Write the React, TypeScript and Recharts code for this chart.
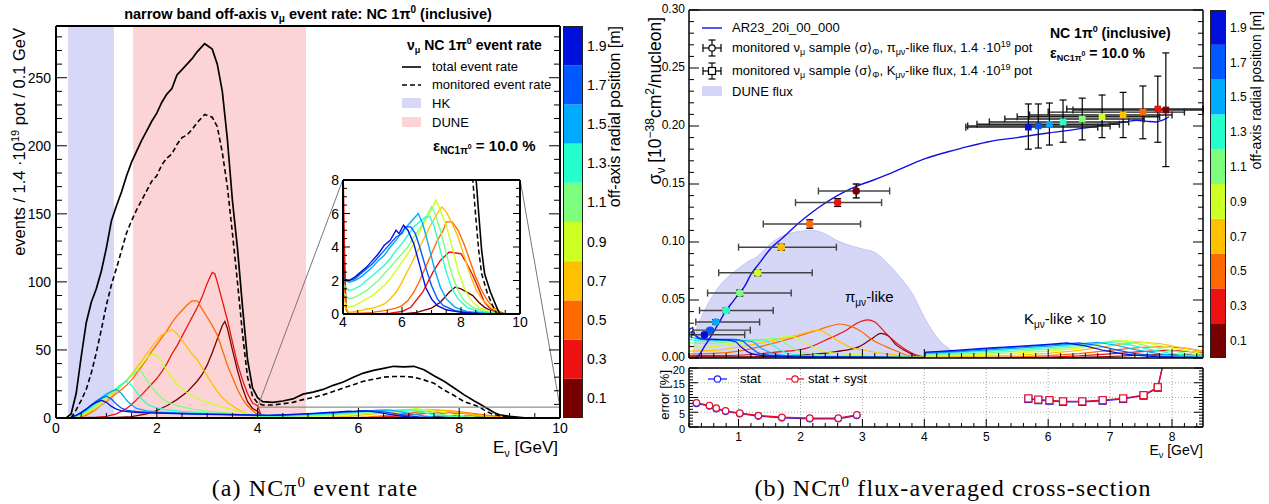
import React from 'react';
import {
  LineChart, Line, XAxis, YAxis, ReferenceArea, ReferenceLine,
  ComposedChart, Area, Scatter, ErrorBar, Cell, BarChart, Bar, ZAxis,
} from 'recharts';

const FONT = "'Liberation Sans', Arial, Helvetica, sans-serif";
const SERIF = "'Liberation Serif', 'DejaVu Serif', serif";

// ---------- radial bins / palette ----------
const RADII = [0.1, 0.3, 0.5, 0.7, 0.9, 1.1, 1.3, 1.5, 1.7, 1.9];
const BIN_W = 0.2;
const PALETTE = ['#780000', '#ee1111', '#ff6a00', '#ffc000', '#ccff22', '#7dff7d', '#25ffcc', '#00aaff', '#0058ff', '#0010dc'];

// ---------- left panel: event rates [E, events] ----------
const TOTAL_RATE: [number, number][] = [[0.2,0],[0.3,3],[0.4,18],[0.5,45],[0.6,70],[0.7,85],[0.8,95],[0.9,108],[1.0,125],[1.1,145],[1.2,156],[1.3,166],[1.4,178],[1.5,188],[1.6,196],[1.7,204],[1.8,211],[1.9,218],[2.0,224],[2.1,232],[2.2,238],[2.3,242],[2.4,252],[2.5,256],[2.6,260],[2.7,264],[2.8,269],[2.95,275],[3.1,271],[3.2,260],[3.3,240],[3.4,205],[3.5,160],[3.6,125],[3.7,82],[3.8,43],[3.9,22],[4.0,15],[4.1,12],[4.3,11.5],[4.5,12.5],[4.7,14],[4.9,17.5],[5.1,19],[5.3,21],[5.5,24],[5.7,26.5],[5.9,30],[6.1,33],[6.3,35],[6.5,36.5],[6.7,38],[6.9,37.5],[7.1,38],[7.3,35.5],[7.5,31],[7.7,27],[7.9,22],[8.1,17],[8.3,12.5],[8.4,10.5],[8.5,8.3],[8.6,6],[8.7,3.8],[8.8,2.4],[9.0,1.3],[9.2,0.45],[9.3,0.05],[9.5,0],[10,0]];
const MONITORED_RATE: [number, number][] = [[0.3,0],[0.4,6],[0.5,13],[0.6,21],[0.7,33],[0.8,48],[0.9,65],[1.0,83],[1.1,98],[1.2,110],[1.3,123],[1.4,136],[1.5,145],[1.6,153],[1.7,160],[1.8,167],[1.9,174],[2.0,178],[2.1,186],[2.2,191],[2.3,194],[2.4,201],[2.5,206],[2.6,208],[2.7,212],[2.8,217],[2.95,223],[3.1,221],[3.2,214],[3.3,195],[3.4,170],[3.5,136],[3.6,100],[3.7,62],[3.8,30],[3.9,16],[4.0,11],[4.1,9.5],[4.3,9.5],[4.5,10.5],[4.7,11.5],[4.9,13.5],[5.1,15],[5.3,17],[5.5,19.5],[5.7,22],[5.9,24.5],[6.1,27],[6.3,28.5],[6.5,30],[6.7,30.5],[6.9,30.5],[7.1,30],[7.3,28],[7.5,25.5],[7.7,20.5],[7.9,16.5],[8.1,12],[8.3,9.5],[8.4,8],[8.5,5.8],[8.6,3.8],[8.7,2.4],[8.9,1.2],[9.1,0.4],[9.2,0.05],[9.4,0],[10,0]];

const RATE_R01: [number, number][] = [[0.2,0],[1.0,0.1],[1.5,1],[1.8,3],[2.0,5.5],[2.2,9],[2.4,13.5],[2.6,19],[2.8,27],[2.9,32],[3.0,39],[3.1,48],[3.2,58],[3.3,68],[3.35,71],[3.4,66],[3.5,50],[3.6,35],[3.7,22],[3.8,12],[3.9,7],[4.0,5],[4.1,0.3],[4.2,0],[6.0,0],[6.5,0.1],[7.0,0.35],[7.3,0.7],[7.6,1.3],[7.8,1.6],[8.0,1.5],[8.2,1.3],[8.4,1.1],[8.6,0.7],[8.8,0.4],[9.0,0.2],[9.3,0.05],[9.5,0],[10,0]];
const RATE_R03: [number, number][] = [[0.2,0],[0.5,0.2],[0.8,0.6],[1.0,1.2],[1.2,3],[1.4,7],[1.5,10],[1.6,13.5],[1.7,17],[1.8,21],[1.9,25],[2.0,29],[2.1,34],[2.2,40],[2.3,47],[2.4,53],[2.5,60],[2.6,67],[2.7,74],[2.8,81],[2.9,89],[3.0,99],[3.1,107],[3.15,106],[3.2,100],[3.3,86],[3.4,72],[3.5,56],[3.6,40],[3.7,28],[3.8,18],[3.9,11],[4.0,9],[4.05,4],[4.1,0.4],[4.2,0],[5.0,0],[5.6,0.05],[6.0,0.15],[6.3,0.4],[6.7,1.3],[7.05,2.5],[7.3,3.2],[7.6,3.7],[8.0,3.6],[8.2,3.0],[8.4,2.3],[8.6,1.5],[8.8,0.7],[9.0,0.3],[9.3,0.08],[9.5,0],[10,0]];
const RATE_R05: [number, number][] = [[0.2,0],[0.4,0.3],[0.5,1],[0.6,2],[0.7,4],[0.8,6.5],[0.9,9.5],[1.0,12],[1.1,15],[1.2,18],[1.3,21],[1.4,24],[1.5,28],[1.6,33],[1.7,38],[1.8,43],[1.9,49],[2.0,54],[2.1,59],[2.2,64],[2.3,70],[2.4,75],[2.5,79],[2.6,83],[2.7,86],[2.8,86],[2.9,80],[3.0,74],[3.1,68],[3.2,61],[3.3,50],[3.4,39],[3.5,30],[3.6,21],[3.7,14],[3.8,9],[3.9,5.5],[4.0,2.5],[4.1,0.3],[4.2,0.05],[4.6,0.05],[5.0,0.1],[5.4,0.2],[5.8,0.35],[6.0,0.5],[6.2,0.8],[6.4,1.3],[6.6,2.0],[6.8,2.8],[7.0,3.6],[7.2,4.4],[7.4,5.0],[7.5,5.5],[7.7,5.5],[7.9,5.0],[8.1,4.2],[8.3,3.2],[8.5,2.2],[8.7,1.4],[8.9,0.8],[9.1,0.4],[9.3,0.15],[9.5,0],[10,0]];
const RATE_R07: [number, number][] = [[0.2,0],[0.3,0.1],[0.4,0.6],[0.5,1.5],[0.6,3],[0.7,5],[0.8,7],[0.9,9.5],[1.0,12.5],[1.1,16],[1.2,20],[1.3,24],[1.4,28],[1.5,32],[1.6,37],[1.7,42],[1.8,47],[1.9,52],[2.0,57],[2.1,61],[2.2,63],[2.3,65],[2.4,62],[2.5,57],[2.6,52],[2.7,47],[2.8,43],[2.9,37],[3.0,31],[3.1,25],[3.2,19.5],[3.3,15],[3.4,11.5],[3.5,9],[3.6,6.5],[3.7,4.5],[3.8,3],[3.9,1.8],[4.0,0.6],[4.2,0.1],[4.4,0.15],[4.6,0.2],[4.8,0.3],[5.0,0.35],[5.2,0.45],[5.4,0.6],[5.6,0.9],[5.8,1.3],[6.0,1.9],[6.2,2.6],[6.4,3.3],[6.6,4.0],[6.8,4.7],[7.0,5.4],[7.2,6.0],[7.35,6.4],[7.5,6.1],[7.7,5.4],[7.9,4.6],[8.1,3.5],[8.3,2.4],[8.5,1.5],[8.7,0.9],[9.0,0.4],[9.3,0.1],[9.5,0],[10,0]];
const RATE_R09: [number, number][] = [[0.2,0],[0.3,0.2],[0.4,1],[0.5,2],[0.6,3.8],[0.7,6],[0.8,9],[0.9,12],[1.0,15],[1.1,18],[1.2,21],[1.3,24],[1.4,27.5],[1.5,31],[1.6,35],[1.7,39.5],[1.8,44],[1.9,47],[2.0,46],[2.1,41],[2.2,35],[2.3,29.5],[2.4,25],[2.5,21.5],[2.6,18.5],[2.8,14.5],[3.0,11.5],[3.3,8],[3.6,5],[3.9,2.5],[4.0,0.8],[4.2,0.4],[4.4,0.5],[4.6,0.7],[4.8,0.9],[5.0,1.1],[5.2,1.4],[5.4,1.7],[5.6,2.1],[5.8,2.6],[6.0,3.1],[6.2,3.6],[6.4,4.2],[6.6,4.9],[6.8,5.6],[7.0,6.2],[7.15,6.8],[7.3,6.2],[7.5,5.3],[7.7,4.0],[7.9,2.6],[8.1,1.6],[8.3,0.9],[8.6,0.4],[9.0,0.15],[9.4,0],[10,0]];
const RATE_R11: [number, number][] = [[0.2,0],[0.3,0.3],[0.4,1.2],[0.5,2.5],[0.6,4.5],[0.7,7],[0.8,10],[0.9,13],[1.0,16],[1.1,18.5],[1.2,21],[1.3,24],[1.4,27],[1.5,31],[1.6,35],[1.7,34],[1.8,28],[1.9,23],[2.0,18],[2.1,14.5],[2.2,12],[2.4,9],[2.7,6.5],[3.0,5.0],[3.5,3.4],[4.0,1.3],[4.2,0.9],[4.4,1.0],[4.6,1.2],[4.8,1.4],[5.0,1.7],[5.2,2.0],[5.4,2.4],[5.6,2.8],[5.8,3.2],[6.0,3.6],[6.2,4.0],[6.4,4.6],[6.6,5.1],[6.8,5.7],[7.0,6.4],[7.1,6.1],[7.3,5.0],[7.5,3.6],[7.7,2.3],[7.9,1.4],[8.1,0.8],[8.4,0.4],[8.8,0.15],[9.3,0],[10,0]];
const RATE_R13: [number, number][] = [[0.2,0],[0.3,0.3],[0.4,1.5],[0.5,3],[0.6,5.5],[0.7,8],[0.8,11],[0.9,14],[1.0,16.5],[1.1,19],[1.2,22],[1.3,25],[1.4,27],[1.5,24],[1.6,19],[1.7,14],[1.8,10.5],[1.9,8.5],[2.0,7.5],[2.2,6.0],[2.5,4.8],[3.0,3.6],[3.5,2.8],[4.0,1.8],[4.2,1.4],[4.4,1.5],[4.6,1.7],[4.8,2.0],[5.0,2.3],[5.2,2.6],[5.4,2.9],[5.6,3.3],[5.8,3.8],[6.0,4.2],[6.2,4.7],[6.4,5.2],[6.6,5.5],[6.8,5.8],[6.95,5.8],[7.1,5.2],[7.3,3.8],[7.5,2.5],[7.7,1.5],[7.9,0.9],[8.2,0.4],[8.6,0.15],[9.3,0],[10,0]];
const RATE_R15: [number, number][] = [[0.2,0],[0.3,0.4],[0.4,1.8],[0.5,3.5],[0.6,6],[0.7,9],[0.8,12],[0.9,15],[1.0,17.5],[1.1,19.5],[1.2,21],[1.3,18],[1.4,13],[1.5,9.5],[1.6,7],[1.8,5.2],[2.0,4.5],[2.5,3.6],[3.0,3.1],[3.5,2.6],[4.0,2.1],[4.2,1.9],[4.4,2.0],[4.6,2.2],[4.8,2.5],[5.0,2.8],[5.2,3.2],[5.4,3.5],[5.6,4.0],[5.8,4.4],[6.0,4.9],[6.2,5.3],[6.4,5.7],[6.55,6.0],[6.7,5.4],[6.9,4.1],[7.1,2.7],[7.3,1.6],[7.5,0.9],[7.8,0.4],[8.2,0.15],[8.8,0.05],[9.3,0],[10,0]];
const RATE_R17: [number, number][] = [[0.2,0],[0.3,0.5],[0.4,2],[0.5,4],[0.6,6.5],[0.7,9.5],[0.8,12.5],[0.9,14.5],[1.0,16],[1.1,14],[1.2,10],[1.3,7.2],[1.4,5.8],[1.6,4.7],[2.0,3.9],[2.5,3.3],[3.0,2.9],[3.5,2.5],[4.0,2.1],[4.2,2.0],[4.4,2.1],[4.6,2.4],[4.8,2.7],[5.0,3.0],[5.2,3.4],[5.4,3.8],[5.6,4.2],[5.8,4.6],[6.0,4.8],[6.1,5.2],[6.3,5.2],[6.45,4.8],[6.6,4.0],[6.8,2.8],[7.0,1.7],[7.2,0.9],[7.4,0.5],[7.8,0.2],[8.4,0.05],[9.2,0],[10,0]];
const RATE_R19: [number, number][] = [[0.2,0],[0.3,0.5],[0.4,2],[0.5,4],[0.6,6.5],[0.7,9.5],[0.8,11.5],[0.9,13],[1.0,11.5],[1.1,8.5],[1.2,6.5],[1.3,5.3],[1.5,4.4],[1.8,3.8],[2.2,3.4],[2.6,3.0],[3.0,2.7],[3.5,2.4],[4.0,2.1],[4.2,2.0],[4.4,2.2],[4.6,2.5],[4.8,2.8],[5.0,3.2],[5.2,3.6],[5.4,4.1],[5.6,4.4],[5.8,5.0],[5.9,4.8],[6.05,5.3],[6.2,5.0],[6.4,4.2],[6.6,2.9],[6.8,1.6],[7.0,0.9],[7.2,0.5],[7.5,0.25],[8.0,0.1],[8.6,0.03],[9.2,0],[10,0]];
const RATE_CURVES = [RATE_R01, RATE_R03, RATE_R05, RATE_R07, RATE_R09, RATE_R11, RATE_R13, RATE_R15, RATE_R17, RATE_R19];

const HK_RANGE = [0.24, 1.15];
const DUNE_RANGE = [1.53, 4.96];
const INSET_BOX = { e0: 4, e1: 10, v1: 8 };
const INSET_CORNERS = [[5.69, 174.9], [9.21, 174.9]];

// ---------- right panel ----------
const AR23: [number, number][] = [[0.3,0],[0.37,0.003],[0.45,0.010],[0.58,0.021],[0.7,0.032],[0.8,0.041],[0.9,0.048],[1.0,0.055],[1.1,0.062],[1.2,0.072],[1.34,0.082],[1.53,0.095],[1.7,0.103],[1.9,0.113],[2.1,0.122],[2.3,0.130],[2.5,0.137],[2.7,0.143],[2.9,0.148],[3.16,0.153],[3.4,0.158],[3.7,0.165],[3.97,0.171],[4.2,0.175],[4.4,0.178],[4.68,0.182],[5.0,0.186],[5.2,0.188],[5.5,0.190],[5.74,0.192],[6.0,0.194],[6.3,0.196],[6.55,0.198],[6.8,0.200],[7.1,0.2025],[7.3,0.204],[7.42,0.205],[7.6,0.204],[7.74,0.2035],[7.85,0.205],[7.95,0.208]];
const DUNE_FLUX: [number, number][] = [[0.25,0],[0.3,0.015],[0.32,0.024],[0.4,0.035],[0.48,0.044],[0.6,0.055],[0.74,0.065],[0.9,0.073],[1.02,0.078],[1.15,0.083],[1.29,0.087],[1.45,0.095],[1.6,0.102],[1.87,0.108],[2.19,0.11],[2.4,0.107],[2.6,0.101],[2.8,0.097],[3.0,0.094],[3.2,0.091],[3.4,0.082],[3.6,0.07],[3.8,0.056],[4.0,0.035],[4.2,0.018],[4.4,0.008],[4.6,0.003],[4.8,0.0012],[5.0,0.0004],[5.5,0]];

const FLUX_PI_R01: [number, number][] = [[0.2,0.001],[1.0,0.001],[1.8,0.0018],[2.36,0.004],[2.7,0.0065],[2.95,0.0098],[3.15,0.0165],[3.3,0.0213],[3.42,0.019],[3.54,0.0115],[3.7,0.006],[3.82,0.0026],[3.95,0.0005],[4.05,0.0001]];
const FLUX_PI_R03: [number, number][] = [[0.2,0.002],[0.8,0.002],[1.2,0.003],[1.6,0.005],[2.09,0.0083],[2.41,0.0155],[2.74,0.024],[2.95,0.031],[3.09,0.0328],[3.2,0.031],[3.38,0.0213],[3.55,0.013],[3.71,0.0069],[3.85,0.003],[4.0,0.0008],[4.1,0.0001]];
const FLUX_PI_R05: [number, number][] = [[0.2,0.0035],[0.6,0.004],[1.0,0.006],[1.4,0.0105],[1.66,0.0141],[2.2,0.0227],[2.45,0.027],[2.63,0.0293],[2.8,0.0275],[2.95,0.024],[3.15,0.016],[3.38,0.0098],[3.55,0.006],[3.71,0.0026],[3.9,0.0008],[4.05,0.0002]];
const FLUX_PI_R07: [number, number][] = [[0.2,0.006],[0.6,0.0065],[1.0,0.0095],[1.5,0.0145],[1.9,0.019],[2.31,0.024],[2.45,0.02],[2.63,0.0141],[2.8,0.0095],[3.0,0.0069],[3.4,0.0035],[3.8,0.0012],[4.05,0.0003]];
const FLUX_PI_R09: [number, number][] = [[0.2,0.0095],[0.5,0.0095],[1.0,0.013],[1.5,0.0165],[1.88,0.0184],[2.05,0.014],[2.25,0.008],[2.5,0.0045],[3.0,0.0025],[3.6,0.0013],[4.0,0.0005]];
const FLUX_PI_R11: [number, number][] = [[0.2,0.013],[0.5,0.0125],[1.0,0.0145],[1.4,0.016],[1.61,0.0169],[1.75,0.013],[1.9,0.0075],[2.1,0.004],[2.6,0.0018],[3.4,0.001],[4.0,0.0005]];
const FLUX_PI_R13: [number, number][] = [[0.2,0.016],[0.4,0.0145],[0.8,0.015],[1.2,0.0155],[1.42,0.0155],[1.55,0.011],[1.7,0.006],[1.9,0.003],[2.4,0.0015],[3.2,0.0009],[4.0,0.0004]];
const FLUX_PI_R15: [number, number][] = [[0.2,0.019],[0.3,0.017],[0.5,0.0155],[0.8,0.0155],[1.1,0.0148],[1.23,0.014],[1.35,0.009],[1.5,0.005],[1.7,0.0025],[2.2,0.0013],[3.0,0.0008],[4.0,0.0004]];
const FLUX_PI_R17: [number, number][] = [[0.2,0.021],[0.25,0.023],[0.3,0.019],[0.4,0.016],[0.6,0.016],[0.9,0.016],[1.05,0.015],[1.15,0.011],[1.3,0.005],[1.5,0.0025],[2.0,0.0012],[3.0,0.0007],[4.0,0.0004]];
const FLUX_PI_R19: [number, number][] = [[0.2,0.024],[0.25,0.026],[0.3,0.02],[0.4,0.017],[0.6,0.016],[0.8,0.0155],[0.95,0.014],[1.05,0.009],[1.2,0.004],[1.4,0.002],[1.8,0.0012],[2.5,0.0008],[3.5,0.0005],[4.0,0.0003]];
const FLUX_PI = [FLUX_PI_R01, FLUX_PI_R03, FLUX_PI_R05, FLUX_PI_R07, FLUX_PI_R09, FLUX_PI_R11, FLUX_PI_R13, FLUX_PI_R15, FLUX_PI_R17, FLUX_PI_R19];

const FLUX_K_R01: [number, number][] = [[5.5,0],[6.0,0.0002],[6.5,0.0006],[7.0,0.0013],[7.5,0.0024],[7.9,0.003],[8.2,0.0029],[8.5,0.0024]];
const FLUX_K_R03: [number, number][] = [[5.0,0.0001],[5.5,0.0003],[6.0,0.0008],[6.5,0.0018],[7.0,0.0035],[7.5,0.0055],[7.9,0.0065],[8.2,0.006],[8.5,0.0045]];
const FLUX_K_R05: [number, number][] = [[4.5,0.0002],[5.0,0.0005],[5.5,0.001],[6.0,0.002],[6.5,0.0038],[7.0,0.0065],[7.5,0.0092],[7.9,0.0098],[8.2,0.0085],[8.5,0.006]];
const FLUX_K_R07: [number, number][] = [[4.0,0],[4.02,0.0008],[4.5,0.0011],[5.0,0.0017],[5.5,0.0026],[6.0,0.004],[6.5,0.0065],[7.0,0.0105],[7.45,0.0138],[7.8,0.0125],[8.1,0.0095],[8.5,0.0055]];
const FLUX_K_R09: [number, number][] = [[4.0,0],[4.02,0.0016],[4.5,0.0022],[5.0,0.0031],[5.5,0.0044],[6.0,0.006],[6.5,0.0085],[7.15,0.0155],[7.5,0.0138],[7.9,0.0098],[8.2,0.0065],[8.5,0.0038]];
const FLUX_K_R11: [number, number][] = [[4.0,0],[4.02,0.0026],[4.5,0.0033],[5.0,0.0045],[5.5,0.006],[6.0,0.0077],[6.5,0.0098],[7.05,0.0148],[7.4,0.0128],[7.8,0.0082],[8.2,0.0042],[8.5,0.0022]];
const FLUX_K_R13: [number, number][] = [[4.0,0],[4.02,0.0035],[4.5,0.0043],[5.0,0.0057],[5.5,0.0073],[6.0,0.009],[6.5,0.011],[6.95,0.0138],[7.3,0.0115],[7.6,0.0078],[8.0,0.0038],[8.5,0.0012]];
const FLUX_K_R15: [number, number][] = [[4.0,0],[4.02,0.0042],[4.5,0.0052],[5.0,0.0068],[5.5,0.0085],[6.0,0.0103],[6.5,0.0122],[6.8,0.0135],[7.1,0.011],[7.4,0.0072],[7.8,0.0035],[8.2,0.0015],[8.5,0.0007]];
const FLUX_K_R17: [number, number][] = [[4.0,0],[4.02,0.0048],[4.5,0.006],[5.0,0.0078],[5.5,0.0095],[6.0,0.0112],[6.5,0.013],[6.8,0.0108],[7.1,0.007],[7.4,0.0038],[7.8,0.0016],[8.2,0.0007],[8.5,0.0003]];
const FLUX_K_R19: [number, number][] = [[4.0,0],[4.02,0.005],[4.5,0.0065],[5.0,0.0085],[5.5,0.010],[6.0,0.0118],[6.3,0.013],[6.6,0.0105],[6.9,0.0065],[7.2,0.0035],[7.6,0.0015],[8.0,0.0006],[8.5,0.0002]];
const FLUX_K = [FLUX_K_R01, FLUX_K_R03, FLUX_K_R05, FLUX_K_R07, FLUX_K_R09, FLUX_K_R11, FLUX_K_R13, FLUX_K_R15, FLUX_K_R17, FLUX_K_R19];

// pi-like flux-averaged points (ordered 0.1 m -> 1.9 m)
const PI_E = [2.90, 2.60, 2.15, 1.69, 1.31, 1.02, 0.80, 0.63, 0.54, 0.45];
const PI_SIG = [0.144, 0.134, 0.1155, 0.0955, 0.0735, 0.056, 0.041, 0.031, 0.024, 0.020];
const PI_SIG_ERR = [0.006, 0.0033, 0.0036, 0.0025, 0.0025, 0.0025, 0.002, 0.002, 0.0015, 0.0015];
const PI_E_LO = [2.29, 1.92, 1.40, 1.00, 0.68, 0.50, 0.37, 0.31, 0.26, 0.24];
const PI_E_HI = [3.44, 3.31, 2.97, 2.58, 2.19, 1.85, 1.56, 1.34, 1.19, 1.10];

// K-like points (ordered 0.1 m -> 1.9 m)
const K_E = [7.90, 7.77, 7.53, 7.21, 6.87, 6.55, 6.24, 6.02, 5.84, 5.68];
const K_SIG = [0.2138, 0.2147, 0.212, 0.2095, 0.208, 0.206, 0.2035, 0.2015, 0.200, 0.199];
const K_SIG_LO = [0.165, 0.186, 0.189, 0.190, 0.190, 0.188, 0.186, 0.1836, 0.181, 0.180];
const K_SIG_HI = [0.263, 0.243, 0.2345, 0.229, 0.2267, 0.224, 0.2224, 0.2198, 0.219, 0.219];
const K_E_LO = [6.4, 6.3, 6.0, 5.7, 5.5, 5.3, 5.05, 4.85, 4.7, 4.67];
const K_E_HI = [8.5, 8.5, 8.2, 8.0, 7.8, 7.55, 7.3, 7.15, 7.0, 6.8];

// error sub-panel [%]
const ERR_PI_E = [0.32, 0.53, 0.64, 0.79, 1.02, 1.32, 1.70, 2.15, 2.61, 2.91];
const ERR_PI_TOT = [8.2, 7.3, 6.4, 5.5, 4.7, 3.9, 3.3, 3.0, 3.0, 4.1];
const ERR_PI_STAT = [8.0, 7.1, 6.2, 5.3, 4.5, 3.7, 3.1, 2.8, 2.8, 3.9];
const ERR_K_E = [5.68, 5.84, 6.02, 6.24, 6.55, 6.88, 7.21, 7.54, 7.77, 7.90];
const ERR_K_TOT = [9.7, 9.3, 9.1, 8.7, 8.7, 9.1, 9.7, 10.8, 13.5, 25.6];
const ERR_K_STAT = [9.5, 9.1, 8.9, 8.5, 8.5, 8.9, 9.5, 10.6, 13.3, 25.4];

// ---------- helpers ----------
const pts = (a: [number, number][]) => a.map(([e, v]) => ({ e, v }));
const zipPts = (es: number[], vs: number[]) => es.map((e, i) => ({ e, v: vs[i] }));
const seq = (a: number, b: number, s: number): number[] => {
  const out: number[] = [];
  const n = Math.round((b - a) / s);
  for (let i = 0; i <= n; i++) out.push(+(a + i * s).toFixed(6));
  return out;
};

type Side = 'bottom' | 'top' | 'left' | 'right';
const mkTick = (side: Side, majors: number[], maj: number, min: number, fmt: ((v: number) => string) | null, fs = 13, gap = 4, sw = 1, vshift = 0.36) =>
  (p: any) => {
    const v = Number(p.payload?.value);
    const isMaj = majors.some((m) => Math.abs(m - v) < 1e-6);
    const L = isMaj ? maj : min;
    const x = Number(p.x), y = Number(p.y);
    let x2 = x, y2 = y;
    if (side === 'bottom') y2 = y - L;
    if (side === 'top') y2 = y + L;
    if (side === 'left') x2 = x + L;
    if (side === 'right') x2 = x - L;
    let label: any = null;
    if (isMaj && fmt) {
      if (side === 'bottom') label = <text x={x} y={y + gap + fs * 0.72} textAnchor="middle" fontSize={fs} fontFamily={FONT} fill="#000">{fmt(v)}</text>;
      if (side === 'left') label = <text x={x - gap} y={y + fs * vshift} textAnchor="end" fontSize={fs} fontFamily={FONT} fill="#000">{fmt(v)}</text>;
    }
    return <g>{L > 0 && <line x1={x} y1={y} x2={x2} y2={y2} stroke="#000" strokeWidth={sw} />}{label}</g>;
  };
const cbTick = (fs: number, gap: number) => (p: any) => (
  <text x={Number(p.x) + gap} y={Number(p.y) + fs * 0.36} fontSize={fs} fontFamily={FONT} fill="#000">{Number(p.payload?.value).toFixed(1)}</text>
);
const fmtInt = (v: number) => String(Math.round(v));
const fmt2 = (v: number) => v.toFixed(2);

const axProps = { tickSize: 0, tickMargin: 0, tickLine: false, interval: 0 as const, allowDataOverflow: true, type: 'number' as const };

// tick sets
const L_XT = seq(0, 10, 0.5), L_XMAJ = [0, 2, 4, 6, 8, 10];
const L_YT = seq(0, 280, 10), L_YMAJ = [0, 50, 100, 150, 200, 250];
const I_XT = seq(4, 10, 0.5), I_XMAJ = [4, 6, 8, 10];
const I_YT = seq(0, 8, 0.5), I_YMAJ = [0, 2, 4, 6, 8];
const R_XT = seq(0.2, 8.4, 0.2), R_XMAJ = [1, 2, 3, 4, 5, 6, 7, 8];
const R_YT = seq(0, 0.3, 0.01), R_YMAJ = [0, 0.05, 0.1, 0.15, 0.2, 0.25, 0.3];
const S_YT = seq(0, 20, 1), S_YMAJ = [0, 5, 10, 15, 20];

const CB_ROW: Record<string, number | string> = { name: 'cb' };
RADII.forEach((_, i) => { CB_ROW['b' + i] = BIN_W; });

const PI_POINTS = PI_E.map((e, i) => ({ e, v: PI_SIG[i], ex: [e - PI_E_LO[i], PI_E_HI[i] - e], ey: PI_SIG_ERR[i] }));
const K_POINTS = K_E.map((e, i) => ({ e, v: K_SIG[i], ex: [e - K_E_LO[i], K_E_HI[i] - e], ey: [K_SIG[i] - K_SIG_LO[i], K_SIG_HI[i] - K_SIG[i]] }));

const RED = '#e8102a';
const BLUE = '#2020ff';
const HK_COL = '#d7d7f8';
const DUNE_COL = '#fcd4d6';
const FLUX_COL = '#d6d6f7';

const squareDot = (color: string) => (p: any) => (
  <rect key={`sq${p.index}`} x={p.cx - 3.5} y={p.cy - 3.5} width={7} height={7} fill="#fff" stroke={color} strokeWidth={1.2} />
);

function Colorbar({ left, top, w, h, fs, gap }: { left: number; top: number; w: number; h: number; fs: number; gap: number }) {
  return (
    <div style={{ position: 'absolute', left, top }}>
      <BarChart width={w + 32} height={h} data={[CB_ROW]} margin={{ top: 0, right: 0, bottom: 0, left: 0 }} barCategoryGap={0} barGap={0}>
        <XAxis dataKey="name" hide />
        <YAxis orientation="right" type="number" domain={[0, 2]} ticks={RADII} interval={0} width={32} axisLine={false} tickLine={false} tickSize={0} tickMargin={0} tick={cbTick(fs, gap)} allowDataOverflow />
        {RADII.map((_, i) => (
          <Bar key={i} dataKey={'b' + i} stackId="cb" fill={PALETTE[i]} isAnimationActive={false} />
        ))}
      </BarChart>
      <div style={{ position: 'absolute', left: 0, top: 0, width: w, height: h, boxSizing: 'border-box', border: '1px solid #222' }} />
    </div>
  );
}

export default function App() {
  const frameL = { stroke: '#000', strokeWidth: 2 };
  const frameR = { stroke: '#000', strokeWidth: 1.5 };
  return (
    <div style={{ position: 'absolute', left: 0, top: 0, width: 1269, height: 504, background: '#fff', overflow: 'hidden', fontFamily: FONT }}>
      {/* ----- left main panel ----- */}
      <div style={{ position: 'absolute', left: 0, top: 0 }}>
        <LineChart width={600} height={440} margin={{ top: 25, right: 39, bottom: 0, left: 0 }}>
          <XAxis {...axProps} dataKey="e" domain={[0, 10]} ticks={L_XT} height={22} axisLine={frameL} tick={mkTick('bottom', L_XMAJ, 10, 5, fmtInt, 14, 5)} />
          <XAxis {...axProps} xAxisId="top" orientation="top" domain={[0, 10]} ticks={L_XT} height={1} axisLine={frameL} tick={mkTick('top', L_XMAJ, 10, 5, null)} />
          <YAxis {...axProps} domain={[0, 288]} ticks={L_YT} width={56} axisLine={frameL} tick={mkTick('left', L_YMAJ, 11, 6, fmtInt, 14, 5)} />
          <YAxis {...axProps} yAxisId="right" orientation="right" domain={[0, 288]} ticks={L_YT} width={1} axisLine={frameL} tick={mkTick('right', L_YMAJ, 11, 6, null)} />
          <ReferenceArea x1={HK_RANGE[0]} x2={HK_RANGE[1]} fill={HK_COL} fillOpacity={1} stroke="none" />
          <ReferenceArea x1={DUNE_RANGE[0]} x2={DUNE_RANGE[1]} fill={DUNE_COL} fillOpacity={1} stroke="none" />
          {RATE_CURVES.map((c, i) => (
            <Line key={i} data={pts(c)} dataKey="v" stroke={PALETTE[i]} strokeWidth={1.3} dot={false} isAnimationActive={false} type="linear" />
          ))}
          <Line data={pts(MONITORED_RATE)} dataKey="v" stroke="#000" strokeWidth={1.6} strokeDasharray="5 3" dot={false} isAnimationActive={false} type="linear" />
          <Line data={pts(TOTAL_RATE)} dataKey="v" stroke="#000" strokeWidth={1.7} dot={false} isAnimationActive={false} type="linear" />
          <ReferenceLine segment={[{ x: INSET_BOX.e0, y: INSET_BOX.v1 }, { x: INSET_BOX.e1, y: INSET_BOX.v1 }]} stroke="#777" strokeWidth={1} ifOverflow="visible" />
          <ReferenceLine segment={[{ x: INSET_BOX.e0, y: INSET_BOX.v1 }, { x: INSET_CORNERS[0][0], y: INSET_CORNERS[0][1] }]} stroke="#777" strokeWidth={1} ifOverflow="visible" />
          <ReferenceLine segment={[{ x: INSET_BOX.e1, y: INSET_BOX.v1 }, { x: INSET_CORNERS[1][0], y: INSET_CORNERS[1][1] }]} stroke="#777" strokeWidth={1} ifOverflow="visible" />
        </LineChart>
      </div>

      {/* ----- inset ----- */}
      <div style={{ position: 'absolute', left: 303, top: 170 }}>
        <LineChart width={240} height={174} margin={{ top: 9, right: 22, bottom: 0, left: 0 }}>
          <XAxis {...axProps} dataKey="e" domain={[4, 10]} ticks={I_XT} height={30} axisLine={frameL} tick={mkTick('bottom', I_XMAJ, 7, 4, fmtInt, 14, 3)} />
          <XAxis {...axProps} xAxisId="top" orientation="top" domain={[4, 10]} ticks={I_XT} height={1} axisLine={frameL} tick={mkTick('top', I_XMAJ, 7, 4, null)} />
          <YAxis {...axProps} domain={[0, 8]} ticks={I_YT} width={40} axisLine={frameL} tick={mkTick('left', I_YMAJ, 7, 4, fmtInt, 14, 4)} />
          <YAxis {...axProps} yAxisId="right" orientation="right" domain={[0, 8]} ticks={I_YT} width={1} axisLine={frameL} tick={mkTick('right', I_YMAJ, 7, 4, null)} />
          <ReferenceArea x1={4} x2={10} y1={0} y2={8} fill="#fff" fillOpacity={1} stroke="none" />
          {RATE_CURVES.map((c, i) => (
            <Line key={i} data={pts(c)} dataKey="v" stroke={PALETTE[i]} strokeWidth={1.4} dot={false} isAnimationActive={false} type="linear" />
          ))}
          <Line data={pts(MONITORED_RATE)} dataKey="v" stroke="#000" strokeWidth={1.5} strokeDasharray="5 3" dot={false} isAnimationActive={false} type="linear" />
          <Line data={pts(TOTAL_RATE)} dataKey="v" stroke="#000" strokeWidth={1.6} dot={false} isAnimationActive={false} type="linear" />
        </LineChart>
      </div>

      <Colorbar left={563} top={26} w={20} h={392} fs={14} gap={4} />

      {/* ----- right main panel ----- */}
      <div style={{ position: 'absolute', left: 620, top: 0 }}>
        <ComposedChart width={620} height={380} margin={{ top: 9, right: 36, bottom: 0, left: 0 }}>
          <XAxis {...axProps} dataKey="e" domain={[0.2, 8.5]} ticks={R_XT} height={22} axisLine={frameR} tick={mkTick('bottom', R_XMAJ, 9, 5, null)} />
          <XAxis {...axProps} xAxisId="top" orientation="top" domain={[0.2, 8.5]} ticks={R_XT} height={1} axisLine={frameR} tick={mkTick('top', R_XMAJ, 9, 5, null)} />
          <YAxis {...axProps} dataKey="v" domain={[0, 0.3]} ticks={R_YT} width={69} axisLine={frameR} tick={mkTick('left', R_YMAJ, 10, 5, fmt2, 12, 4, 1, 0.28)} />
          <YAxis {...axProps} yAxisId="right" orientation="right" domain={[0, 0.3]} ticks={R_YT} width={1} axisLine={frameR} tick={mkTick('right', R_YMAJ, 10, 5, null)} />
          <ZAxis type="number" range={[44, 44]} />
          <Area data={pts(DUNE_FLUX)} dataKey="v" type="monotone" fill={FLUX_COL} fillOpacity={1} stroke="#c6c6f3" strokeWidth={1} isAnimationActive={false} />
          {FLUX_PI.map((c, i) => (
            <Line key={'p' + i} data={pts(c)} dataKey="v" stroke={PALETTE[i]} strokeWidth={1.2} dot={false} isAnimationActive={false} type="monotone" />
          ))}
          {FLUX_K.map((c, i) => (
            <Line key={'k' + i} data={pts(c)} dataKey="v" stroke={PALETTE[i]} strokeWidth={1.2} dot={false} isAnimationActive={false} type="linear" />
          ))}
          <Line data={pts(AR23)} dataKey="v" stroke="#1010e6" strokeWidth={1.4} dot={false} isAnimationActive={false} type="monotone" />
          <Scatter data={PI_POINTS} dataKey="v" shape="circle" isAnimationActive={false}>
            {PI_POINTS.map((_, i) => <Cell key={i} fill={PALETTE[i]} />)}
            <ErrorBar dataKey="ex" direction="x" width={3.5} stroke="#444" strokeWidth={1.4} />
            <ErrorBar dataKey="ey" direction="y" width={3.5} stroke="#000" strokeWidth={1.4} />
          </Scatter>
          <Scatter data={K_POINTS} dataKey="v" shape="square" isAnimationActive={false}>
            {K_POINTS.map((_, i) => <Cell key={i} fill={PALETTE[i]} />)}
            <ErrorBar dataKey="ex" direction="x" width={3.5} stroke="#222" strokeWidth={1.4} />
            <ErrorBar dataKey="ey" direction="y" width={3.5} stroke="#000" strokeWidth={1.2} />
          </Scatter>
        </ComposedChart>
      </div>

      {/* ----- error sub-panel ----- */}
      <div style={{ position: 'absolute', left: 620, top: 360 }}>
        <LineChart width={620} height={100} margin={{ top: 7, right: 36, bottom: 0, left: 0 }}>
          <XAxis {...axProps} dataKey="e" domain={[0.2, 8.5]} ticks={R_XT} height={33} axisLine={frameR} tick={mkTick('bottom', R_XMAJ, 8, 4, fmtInt, 12, 5)} />
          <XAxis {...axProps} xAxisId="top" orientation="top" domain={[0.2, 8.5]} ticks={R_XT} height={1} axisLine={frameR} tick={mkTick('top', R_XMAJ, 8, 4, null)} />
          <YAxis {...axProps} domain={[0, 20]} ticks={S_YT} width={69} axisLine={frameR} tick={mkTick('left', S_YMAJ, 9, 4, fmtInt, 11, 4, 1, 0.5)} />
          <YAxis {...axProps} yAxisId="right" orientation="right" domain={[0, 20]} ticks={S_YT} width={1} axisLine={frameR} tick={mkTick('right', S_YMAJ, 9, 4, null)} />
          {[5, 10, 15].map((y) => <ReferenceLine key={'h' + y} y={y} stroke="#aaa" strokeDasharray="1 2" />)}
          {R_XMAJ.map((x) => <ReferenceLine key={'v' + x} x={x} stroke="#aaa" strokeDasharray="1 2" />)}
          <Line data={zipPts(ERR_PI_E, ERR_PI_STAT)} dataKey="v" stroke={BLUE} strokeWidth={1.3} dot={{ r: 3.2, fill: '#fff', stroke: BLUE, strokeWidth: 1.2 }} isAnimationActive={false} type="linear" />
          <Line data={zipPts(ERR_PI_E, ERR_PI_TOT)} dataKey="v" stroke={RED} strokeWidth={1.3} dot={{ r: 3.2, fill: '#fff', stroke: RED, strokeWidth: 1.2 }} isAnimationActive={false} type="linear" />
          <Line data={zipPts(ERR_K_E, ERR_K_STAT)} dataKey="v" stroke={BLUE} strokeWidth={1.3} dot={squareDot(BLUE)} isAnimationActive={false} type="linear" />
          <Line data={zipPts(ERR_K_E, ERR_K_TOT)} dataKey="v" stroke={RED} strokeWidth={1.3} dot={squareDot(RED)} isAnimationActive={false} type="linear" />
        </LineChart>
      </div>

      <Colorbar left={1210} top={10} w={16} h={348} fs={12} gap={4} />

      {/* ----- text overlay ----- */}
      <svg width={1269} height={504} style={{ position: 'absolute', left: 0, top: 0, pointerEvents: 'none' }} fontFamily={FONT}>
        {/* left panel */}
        <text x={308} y={19} textAnchor="middle" fontWeight="bold" fontSize={14.5}>narrow band off-axis ν<tspan dy={3} fontSize={10}>μ</tspan><tspan dy={-3}> event rate: NC 1π</tspan><tspan dy={-6} fontSize={10}>0</tspan><tspan dy={6}> (inclusive)</tspan></text>
        <text x={407} y={50} fontWeight="bold" fontSize={14}>ν<tspan dy={3} fontSize={9}>μ</tspan><tspan dy={-3}> NC 1π</tspan><tspan dy={-6} fontSize={9}>0</tspan><tspan dy={6}> event rate</tspan></text>
        <line x1={402} y1={67} x2={421} y2={67} stroke="#000" strokeWidth={1.6} />
        <text x={432} y={71} fontSize={13}>total event rate</text>
        <line x1={402} y1={85} x2={421} y2={85} stroke="#000" strokeWidth={1.6} strokeDasharray="5 3" />
        <text x={432} y={89} fontSize={13}>monitored event rate</text>
        <rect x={402} y={98} width={19} height={10} fill={HK_COL} />
        <text x={432} y={108} fontSize={13}>HK</text>
        <rect x={402} y={117} width={19} height={10} fill={DUNE_COL} />
        <text x={432} y={127} fontSize={13}>DUNE</text>
        <text x={433} y={151} fontWeight="bold" fontSize={15}>ε<tspan dy={3} fontSize={10}>NC1π</tspan><tspan dy={-5} fontSize={7}>0</tspan><tspan dy={2} fontSize={15}> = 10.0 %</tspan></text>
        <text transform="translate(25,28) rotate(-90)" textAnchor="end" fontSize={16.5}>events / 1.4 ·10<tspan dy={-6} fontSize={11}>19</tspan><tspan dy={6}> pot / 0.1 GeV</tspan></text>
        <text x={558} y={453} textAnchor="end" fontSize={17}>E<tspan dy={4} fontSize={11}>ν</tspan><tspan dy={-4}> [GeV]</tspan></text>
        <text transform="translate(620,26) rotate(-90)" textAnchor="end" fontSize={16}>off-axis radial position [m]</text>

        {/* right panel legend */}
        <line x1={702} y1={28} x2={722} y2={28} stroke="#1010e6" strokeWidth={1.4} />
        <text x={732} y={32} fontSize={13}>AR23_20i_00_000</text>
        <g stroke="#000" strokeWidth={1.2} fill="none">
          <line x1={703} y1={48} x2={721} y2={48} />
          <line x1={703} y1={44} x2={703} y2={52} />
          <line x1={721} y1={44} x2={721} y2={52} />
          <line x1={712} y1={40} x2={712} y2={56} />
          <line x1={708.5} y1={40} x2={715.5} y2={40} />
          <line x1={708.5} y1={56} x2={715.5} y2={56} />
          <circle cx={712} cy={48} r={3.2} fill="#fff" />
          <line x1={703} y1={71} x2={721} y2={71} />
          <line x1={703} y1={67} x2={703} y2={75} />
          <line x1={721} y1={67} x2={721} y2={75} />
          <line x1={712} y1={63} x2={712} y2={79} />
          <line x1={708.5} y1={63} x2={715.5} y2={63} />
          <line x1={708.5} y1={79} x2={715.5} y2={79} />
          <rect x={708.5} y={67.5} width={7} height={7} fill="#fff" />
        </g>
        <text x={732} y={52} fontSize={13}>monitored ν<tspan dy={3} fontSize={9}>μ</tspan><tspan dy={-3}> sample ⟨σ⟩</tspan><tspan dy={3} fontSize={9}>Φ</tspan><tspan dy={-3}>, π</tspan><tspan dy={3} fontSize={9}>μν</tspan><tspan dy={-3}>-like flux, 1.4 ·10</tspan><tspan dy={-5} fontSize={9}>19</tspan><tspan dy={5}> pot</tspan></text>
        <text x={732} y={75} fontSize={13}>monitored ν<tspan dy={3} fontSize={9}>μ</tspan><tspan dy={-3}> sample ⟨σ⟩</tspan><tspan dy={3} fontSize={9}>Φ</tspan><tspan dy={-3}>, K</tspan><tspan dy={3} fontSize={9}>μν</tspan><tspan dy={-3}>-like flux, 1.4 ·10</tspan><tspan dy={-5} fontSize={9}>19</tspan><tspan dy={5}> pot</tspan></text>
        <rect x={702} y={86} width={20} height={10} fill={FLUX_COL} />
        <text x={732} y={96} fontSize={13}>DUNE flux</text>
        <text x={1050} y={38} fontWeight="bold" fontSize={14}>NC 1π<tspan dy={-6} fontSize={9}>0</tspan><tspan dy={6}> (inclusive)</tspan></text>
        <text x={1050} y={58} fontWeight="bold" fontSize={14}>ε<tspan dy={3} fontSize={9}>NC1π</tspan><tspan dy={-5} fontSize={7}>0</tspan><tspan dy={2} fontSize={14}> = 10.0 %</tspan></text>
        <text x={845} y={302} fontSize={15}>π<tspan dy={4} fontSize={10}>μν</tspan><tspan dy={-4}>-like</tspan></text>
        <text x={1024} y={324} fontSize={15}>K<tspan dy={4} fontSize={10}>μν</tspan><tspan dy={-4}>-like × 10</tspan></text>
        <text transform="translate(661,17) rotate(-90)" textAnchor="end" fontSize={17.5}>σ<tspan dy={4} fontSize={12}>ν</tspan><tspan dy={-4}> [10</tspan><tspan dy={-7} fontSize={12}>−38</tspan><tspan dy={7}>cm</tspan><tspan dy={-7} fontSize={12}>2</tspan><tspan dy={7}>/nucleon]</tspan></text>
        <text transform="translate(669,370) rotate(-90)" textAnchor="end" fontSize={13}>error [%]</text>
        <text x={1203} y={455} textAnchor="end" fontSize={14}>E<tspan dy={3} fontSize={9}>ν</tspan><tspan dy={-3}> [GeV]</tspan></text>
        <text transform="translate(1261,11) rotate(-90)" textAnchor="end" fontSize={14}>off-axis radial position [m]</text>
        {/* sub-panel legend */}
        <line x1={708} y1={379} x2={727} y2={379} stroke={BLUE} strokeWidth={1.3} />
        <circle cx={717.5} cy={379} r={3.2} fill="#fff" stroke={BLUE} strokeWidth={1.2} />
        <text x={740} y={383} fontSize={13}>stat</text>
        <line x1={786} y1={379} x2={804} y2={379} stroke={RED} strokeWidth={1.3} />
        <circle cx={795} cy={379} r={3.2} fill="#fff" stroke={RED} strokeWidth={1.2} />
        <text x={808} y={383} fontSize={13}>stat + syst</text>

        {/* captions */}
        <text x={315} y={496} textAnchor="middle" fontFamily={SERIF} fontSize={24} letterSpacing={1.1}>(a) NCπ<tspan dy={-9} fontSize={15}>0</tspan><tspan dy={9}> event rate</tspan></text>
        <text x={953} y={496} textAnchor="middle" fontFamily={SERIF} fontSize={24} letterSpacing={1.1}>(b) NCπ<tspan dy={-9} fontSize={15}>0</tspan><tspan dy={9}> flux-averaged cross-section</tspan></text>
      </svg>
    </div>
  );
}
